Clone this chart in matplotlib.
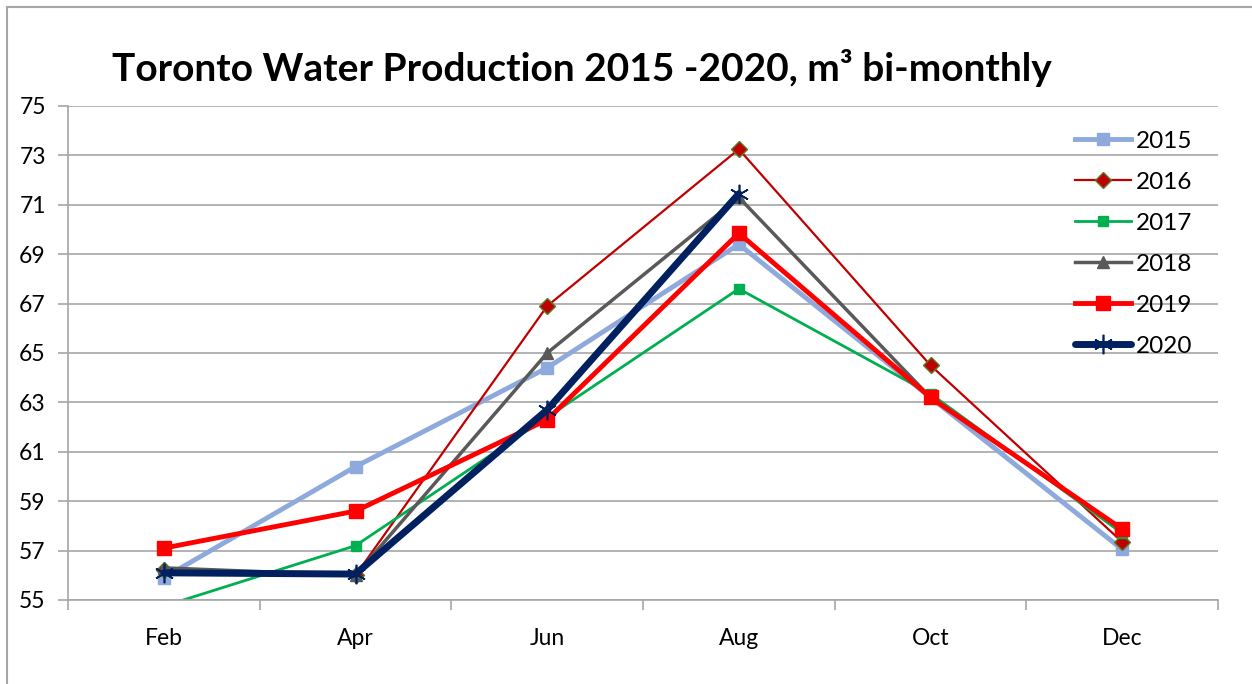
import matplotlib.pyplot as plt
import numpy as np
from matplotlib.lines import Line2D

months = ['Feb', 'Apr', 'Jun', 'Aug', 'Oct', 'Dec']
nan = np.nan

y2015 = [55.9, 60.4, 64.4, 69.4, 63.2, 57.05]
y2016 = [56.2, 56.0, 66.9, 73.25, 64.5, 57.35]
y2017 = [54.75, 57.2, 62.4, 67.6, 63.35, 57.7]
y2018 = [56.3, 56.0, 65.0, 71.3, 63.2, nan]
y2019 = [57.1, 58.6, 62.3, 69.85, 63.2, 57.87]
y2020 = [56.1, 56.05, 62.7, 71.45, nan, nan]

plt.rcParams['font.family'] = ['Lato', 'DejaVu Sans']

W, H = 1252, 684
fig = plt.figure(figsize=(W / 100, H / 100), dpi=100)
ax = fig.add_axes([68 / W, 1 - 600 / H, 1150 / W, 494 / H])

# grey outer frame (left and top edges only visible)
fig.add_artist(Line2D([7 / W, 7 / W], [0, 1 - 7 / H], color='#A6A6A6', lw=1.5))
fig.add_artist(Line2D([7 / W, 1], [1 - 7 / H, 1 - 7 / H], color='#A6A6A6', lw=1.5))

x = np.arange(len(months))

ax.plot(x, y2015, color='#8EA9DB', lw=3.5, marker='s', ms=8.5,
        mec='#8EA9DB', mfc='#8EA9DB', label='2015')
ax.plot(x, y2016, color='#C00000', lw=1.6, marker='D', ms=8,
        mec='#5A7A28', mew=1, mfc='#C00000', label='2016')
ax.plot(x, y2017, color='#00B050', lw=2, marker='s', ms=6.5,
        mec='#00B050', mfc='#00B050', label='2017')
ax.plot(x, y2018, color='#595959', lw=2.5, marker='^', ms=8.5,
        mec='#595959', mfc='#595959', label='2018')
ax.plot(x, y2019, color='#FF0000', lw=3.5, marker='s', ms=10,
        mec='#FF0000', mfc='#FF0000', label='2019')
ax.plot(x, y2020, color='#002060', lw=5, marker=(6, 2, 0), ms=14,
        mec='#002060', mew=1.2, label='2020', solid_capstyle='round')

ax.set_xlim(-0.5, 5.5)
ax.set_ylim(55, 75)
ax.set_yticks(np.arange(55, 76, 2))
ax.set_xticks(x)
ax.set_xticklabels(months)
ax.set_xticks(np.arange(-0.5, 6, 1), minor=True)

ax.grid(axis='y', color='#A6A6A6', lw=1.2)
ax.set_axisbelow(True)
for s in ['top', 'right']:
    ax.spines[s].set_visible(False)
for s in ['left', 'bottom']:
    ax.spines[s].set_color('#A6A6A6')
    ax.spines[s].set_linewidth(1.2)

ax.tick_params(axis='x', which='major', length=0, pad=20, labelsize=16.5)
ax.tick_params(axis='x', which='minor', length=7, color='#A6A6A6', width=1.2)
ax.tick_params(axis='y', length=7, color='#A6A6A6', width=1.2, labelsize=16.5, pad=9)

leg = fig.legend(loc='upper left', bbox_to_anchor=(1053 / W, 1 - 109 / H),
                 frameon=False, fontsize=17.5, handlelength=2.3,
                 handletextpad=0.2, labelspacing=0.82)

fig.text(112 / W, 1 - 68 / H, 'Toronto Water Production 2015 -2020, m\u00b3 bi-monthly',
         fontsize=28, fontweight='bold', va='center', ha='left')

fig.savefig('out.png', dpi=100)
